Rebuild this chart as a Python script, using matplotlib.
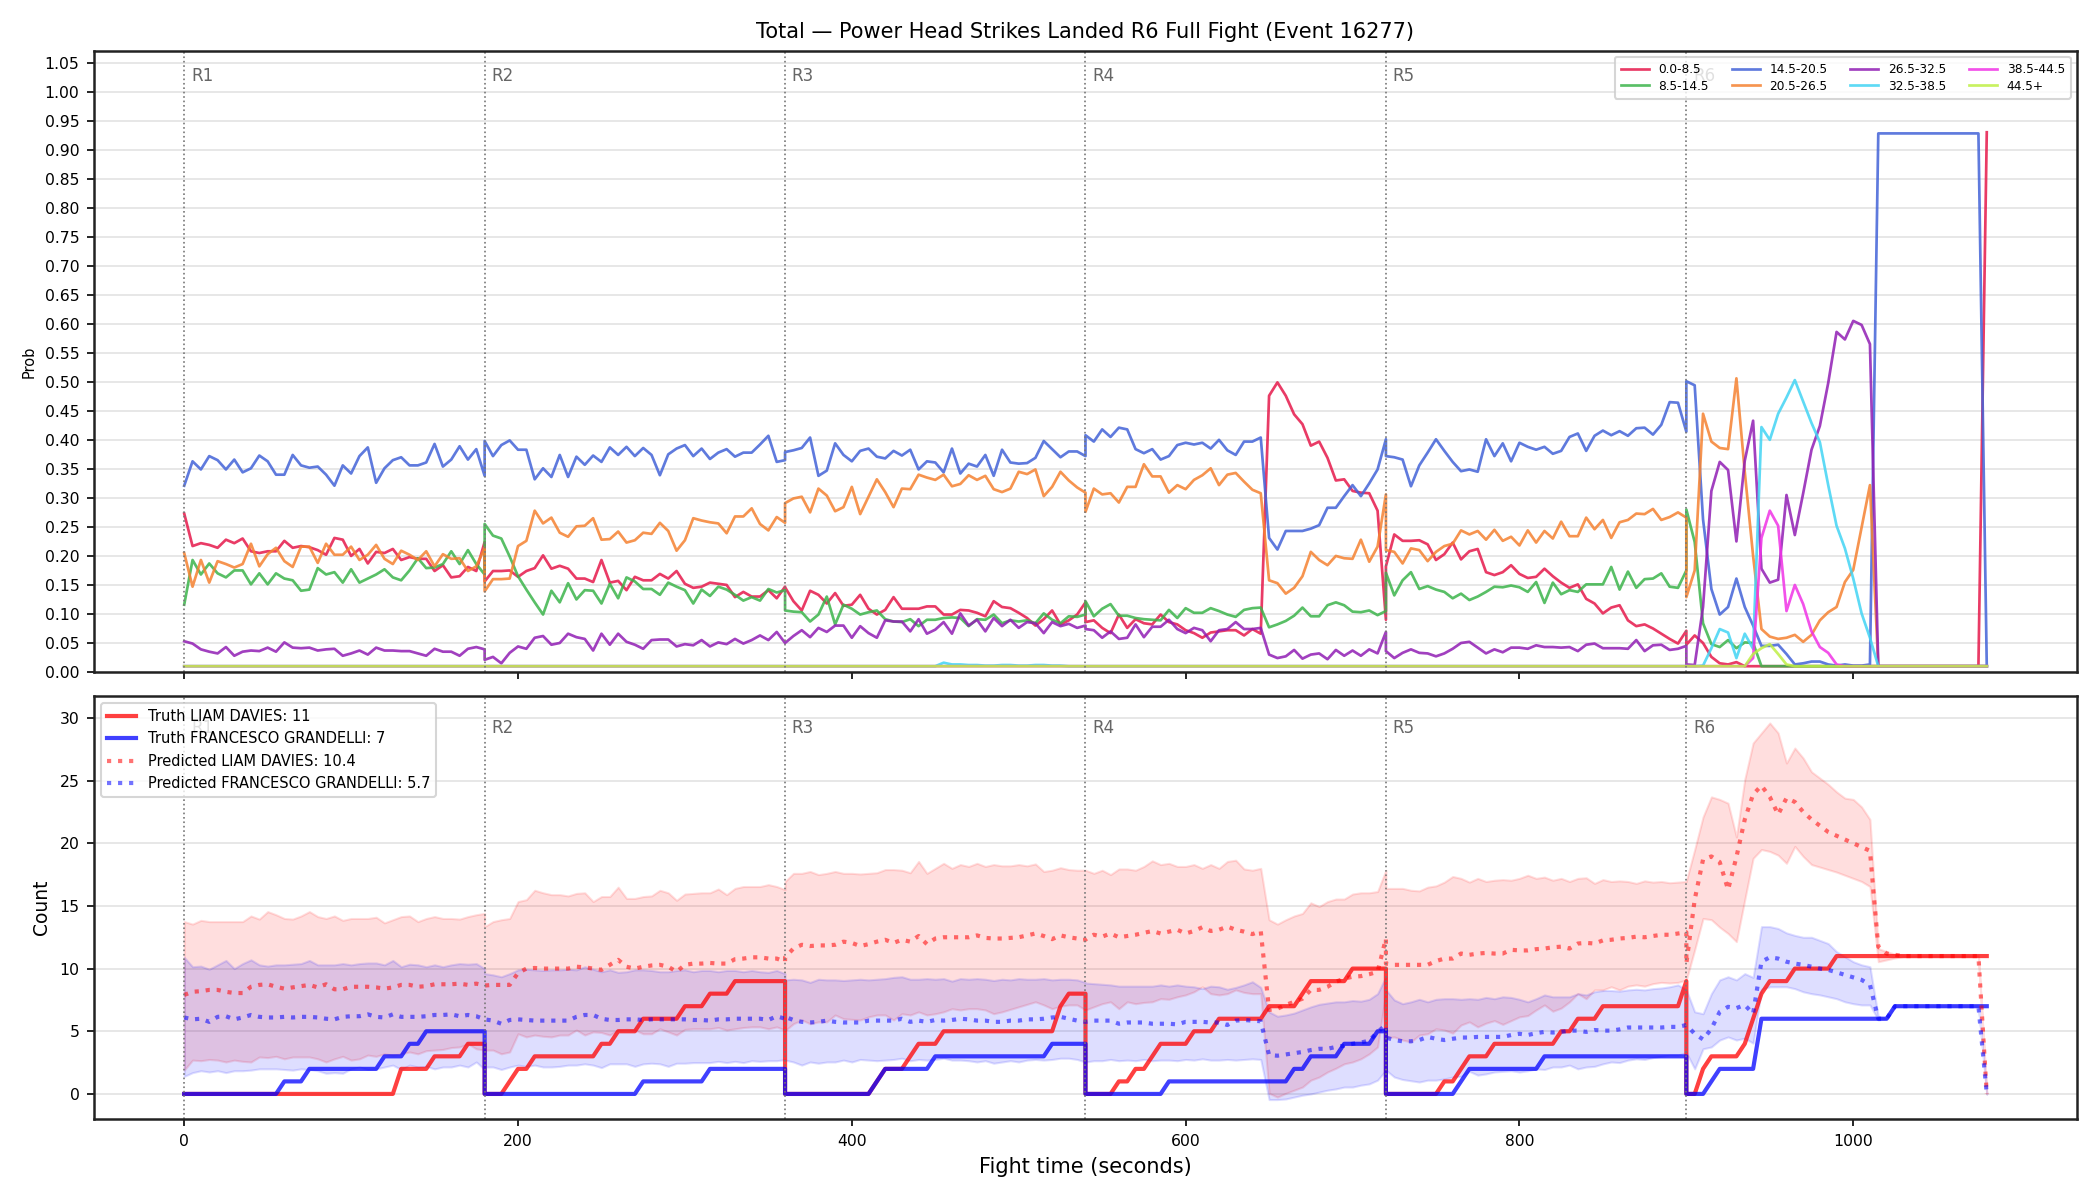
import matplotlib.pyplot as plt
from matplotlib.ticker import MultipleLocator
import numpy as np

# fight time: 6 rounds, samples every 5 s, each round 0..180 s inclusive
ROUND_STARTS = [0, 180, 360, 540, 720, 900]
t = np.concatenate([np.arange(0, 181, 5) + r0 for r0 in ROUND_STARTS])

# ---- top panel: probability per total-strikes bucket ----
bins = ['0.0-8.5', '8.5-14.5', '14.5-20.5', '20.5-26.5',
        '26.5-32.5', '32.5-38.5', '38.5-44.5', '44.5+']
bin_colors = ['#e6194b', '#3cb44b', '#4363d8', '#f58231',
              '#911eb4', '#42d4f4', '#f032e6', '#bfef45']

p_0_8 = (
    [0.273, 0.217, 0.222, 0.219, 0.214, 0.228, 0.222, 0.230, 0.208, 0.205, 0.208, 0.208, 0.226, 0.214, 0.217, 0.215, 0.210, 0.202, 0.231,
     0.228, 0.200, 0.212, 0.187, 0.207, 0.205, 0.212, 0.193, 0.198, 0.195, 0.195, 0.174, 0.184, 0.163, 0.165, 0.181, 0.174, 0.224]
    + [0.156, 0.174, 0.174, 0.175, 0.164, 0.174, 0.179, 0.201, 0.178, 0.183, 0.178, 0.161, 0.161, 0.155, 0.193, 0.154, 0.157, 0.141, 0.164,
       0.158, 0.158, 0.169, 0.161, 0.174, 0.152, 0.145, 0.147, 0.154, 0.152, 0.150, 0.129, 0.138, 0.130, 0.130, 0.141, 0.127, 0.147]
    + [0.146, 0.122, 0.106, 0.140, 0.133, 0.118, 0.136, 0.114, 0.116, 0.133, 0.109, 0.099, 0.107, 0.129, 0.109, 0.109, 0.109, 0.113, 0.113,
       0.099, 0.099, 0.107, 0.106, 0.102, 0.096, 0.122, 0.112, 0.110, 0.102, 0.093, 0.080, 0.091, 0.106, 0.082, 0.089, 0.099, 0.120]
    + [0.086, 0.089, 0.076, 0.067, 0.099, 0.076, 0.091, 0.084, 0.082, 0.099, 0.086, 0.082, 0.072, 0.067, 0.059, 0.068, 0.070, 0.072, 0.072,
       0.063, 0.074, 0.066, 0.476, 0.499, 0.476, 0.444, 0.427, 0.390, 0.397, 0.369, 0.330, 0.332, 0.312, 0.309, 0.308, 0.278, 0.090]
    + [0.182, 0.237, 0.226, 0.226, 0.227, 0.220, 0.193, 0.203, 0.223, 0.194, 0.208, 0.212, 0.172, 0.167, 0.172, 0.184, 0.169, 0.162, 0.164,
       0.178, 0.165, 0.154, 0.145, 0.151, 0.126, 0.118, 0.101, 0.111, 0.115, 0.089, 0.079, 0.082, 0.075, 0.066, 0.057, 0.049, 0.071]
    + [0.047, 0.063, 0.050, 0.026, 0.015, 0.013, 0.017] + [0.010] * 29 + [0.930]
)
p_8_14 = (
    [0.116, 0.193, 0.168, 0.187, 0.170, 0.163, 0.175, 0.175, 0.151, 0.170, 0.151, 0.170, 0.161, 0.158, 0.140, 0.142, 0.179, 0.168, 0.172,
     0.154, 0.177, 0.154, 0.161, 0.168, 0.177, 0.163, 0.158, 0.175, 0.196, 0.179, 0.180, 0.186, 0.208, 0.186, 0.210, 0.186, 0.168]
    + [0.255, 0.235, 0.230, 0.199, 0.165, 0.142, 0.120, 0.099, 0.140, 0.120, 0.153, 0.125, 0.141, 0.140, 0.118, 0.152, 0.127, 0.163, 0.156,
       0.143, 0.143, 0.133, 0.154, 0.147, 0.141, 0.118, 0.142, 0.131, 0.147, 0.142, 0.133, 0.123, 0.129, 0.123, 0.143, 0.137, 0.141]
    + [0.106, 0.104, 0.103, 0.087, 0.099, 0.130, 0.082, 0.116, 0.109, 0.099, 0.103, 0.106, 0.091, 0.087, 0.086, 0.091, 0.079, 0.090, 0.090,
       0.093, 0.094, 0.093, 0.079, 0.091, 0.090, 0.099, 0.084, 0.089, 0.087, 0.089, 0.084, 0.101, 0.090, 0.084, 0.096, 0.095, 0.099]
    + [0.122, 0.096, 0.109, 0.117, 0.097, 0.097, 0.093, 0.091, 0.090, 0.089, 0.107, 0.093, 0.110, 0.102, 0.102, 0.110, 0.105, 0.099, 0.095,
       0.107, 0.110, 0.111, 0.077, 0.082, 0.088, 0.097, 0.111, 0.096, 0.096, 0.115, 0.120, 0.115, 0.104, 0.103, 0.106, 0.098, 0.105]
    + [0.171, 0.132, 0.158, 0.172, 0.143, 0.148, 0.142, 0.138, 0.127, 0.135, 0.124, 0.130, 0.138, 0.147, 0.146, 0.149, 0.146, 0.138, 0.155,
       0.119, 0.154, 0.134, 0.141, 0.138, 0.151, 0.151, 0.151, 0.181, 0.142, 0.173, 0.145, 0.160, 0.161, 0.170, 0.147, 0.145, 0.175]
    + [0.280, 0.224, 0.084, 0.048, 0.043, 0.055, 0.041, 0.051, 0.050] + [0.010] * 28
)
p_14_20 = (
    [0.321, 0.363, 0.349, 0.372, 0.365, 0.349, 0.366, 0.344, 0.351, 0.373, 0.363, 0.340, 0.340, 0.374, 0.356, 0.352, 0.354, 0.340, 0.321,
     0.356, 0.342, 0.372, 0.387, 0.326, 0.351, 0.365, 0.370, 0.356, 0.356, 0.361, 0.393, 0.354, 0.366, 0.389, 0.366, 0.384, 0.338]
    + [0.398, 0.372, 0.391, 0.399, 0.383, 0.383, 0.332, 0.351, 0.336, 0.374, 0.336, 0.371, 0.357, 0.373, 0.362, 0.387, 0.374, 0.388, 0.372,
       0.386, 0.374, 0.339, 0.375, 0.385, 0.391, 0.372, 0.385, 0.367, 0.378, 0.384, 0.371, 0.378, 0.378, 0.392, 0.407, 0.362, 0.365]
    + [0.379, 0.382, 0.386, 0.404, 0.338, 0.347, 0.394, 0.374, 0.363, 0.381, 0.385, 0.371, 0.368, 0.381, 0.373, 0.383, 0.349, 0.363, 0.361,
       0.344, 0.385, 0.342, 0.359, 0.354, 0.374, 0.338, 0.383, 0.361, 0.359, 0.360, 0.369, 0.398, 0.384, 0.370, 0.380, 0.380, 0.372]
    + [0.408, 0.397, 0.418, 0.405, 0.421, 0.418, 0.384, 0.377, 0.384, 0.366, 0.372, 0.391, 0.395, 0.392, 0.395, 0.385, 0.400, 0.382, 0.374,
       0.397, 0.397, 0.404, 0.231, 0.211, 0.243, 0.243, 0.243, 0.247, 0.253, 0.283, 0.283, 0.303, 0.322, 0.303, 0.325, 0.349, 0.401]
    + [0.372, 0.370, 0.366, 0.320, 0.356, 0.378, 0.401, 0.381, 0.362, 0.346, 0.349, 0.345, 0.401, 0.372, 0.394, 0.363, 0.395, 0.388, 0.383,
       0.388, 0.376, 0.381, 0.405, 0.411, 0.381, 0.407, 0.416, 0.408, 0.415, 0.407, 0.420, 0.421, 0.409, 0.426, 0.465, 0.464, 0.414]
    + [0.501, 0.494, 0.263, 0.143, 0.099, 0.112, 0.161, 0.112, 0.080, 0.045, 0.045, 0.047, 0.031, 0.013, 0.015, 0.018, 0.018, 0.013, 0.011,
       0.013, 0.011, 0.011, 0.013] + [0.928] * 13 + [0.010]
)
p_20_26 = (
    [0.205, 0.147, 0.193, 0.154, 0.191, 0.186, 0.180, 0.186, 0.221, 0.182, 0.203, 0.214, 0.191, 0.181, 0.216, 0.216, 0.188, 0.221, 0.202,
     0.202, 0.216, 0.193, 0.202, 0.219, 0.195, 0.186, 0.209, 0.202, 0.193, 0.208, 0.182, 0.203, 0.195, 0.196, 0.174, 0.182, 0.214]
    + [0.139, 0.160, 0.160, 0.161, 0.217, 0.226, 0.278, 0.256, 0.266, 0.240, 0.233, 0.251, 0.252, 0.265, 0.228, 0.229, 0.242, 0.223, 0.227,
       0.240, 0.238, 0.257, 0.243, 0.209, 0.227, 0.265, 0.261, 0.258, 0.256, 0.239, 0.268, 0.268, 0.282, 0.255, 0.244, 0.267, 0.257]
    + [0.291, 0.299, 0.302, 0.275, 0.316, 0.304, 0.277, 0.284, 0.319, 0.272, 0.302, 0.332, 0.310, 0.284, 0.316, 0.315, 0.340, 0.335, 0.331,
       0.340, 0.320, 0.324, 0.339, 0.331, 0.338, 0.315, 0.310, 0.316, 0.345, 0.341, 0.349, 0.303, 0.319, 0.345, 0.330, 0.318, 0.309]
    + [0.276, 0.316, 0.306, 0.308, 0.292, 0.319, 0.319, 0.358, 0.337, 0.337, 0.309, 0.322, 0.315, 0.331, 0.339, 0.351, 0.322, 0.340, 0.343,
       0.328, 0.314, 0.308, 0.158, 0.153, 0.135, 0.145, 0.165, 0.207, 0.193, 0.184, 0.200, 0.196, 0.195, 0.228, 0.190, 0.216, 0.306]
    + [0.210, 0.207, 0.187, 0.213, 0.210, 0.191, 0.207, 0.217, 0.221, 0.244, 0.237, 0.243, 0.228, 0.245, 0.226, 0.233, 0.218, 0.244, 0.223,
       0.243, 0.230, 0.259, 0.234, 0.234, 0.266, 0.246, 0.262, 0.231, 0.258, 0.262, 0.273, 0.272, 0.281, 0.262, 0.267, 0.275, 0.266]
    + [0.129, 0.175, 0.445, 0.397, 0.386, 0.384, 0.506, 0.345, 0.200, 0.074, 0.061, 0.057, 0.059, 0.064, 0.052, 0.064, 0.089, 0.103, 0.112,
       0.155, 0.176, 0.249, 0.322] + [0.010] * 14
)
p_26_32 = (
    [0.053, 0.049, 0.039, 0.035, 0.032, 0.043, 0.028, 0.035, 0.037, 0.036, 0.042, 0.035, 0.051, 0.042, 0.041, 0.042, 0.037, 0.039, 0.040,
     0.028, 0.032, 0.037, 0.030, 0.042, 0.037, 0.037, 0.036, 0.036, 0.032, 0.028, 0.040, 0.035, 0.035, 0.028, 0.040, 0.043, 0.039]
    + [0.021, 0.026, 0.015, 0.033, 0.044, 0.040, 0.059, 0.062, 0.047, 0.050, 0.066, 0.060, 0.057, 0.037, 0.066, 0.047, 0.066, 0.052, 0.047,
       0.040, 0.055, 0.056, 0.056, 0.044, 0.048, 0.046, 0.055, 0.044, 0.051, 0.048, 0.057, 0.049, 0.055, 0.063, 0.055, 0.069, 0.050]
    + [0.050, 0.062, 0.072, 0.060, 0.076, 0.069, 0.080, 0.080, 0.059, 0.079, 0.067, 0.059, 0.089, 0.087, 0.087, 0.070, 0.091, 0.066, 0.073,
       0.086, 0.066, 0.101, 0.080, 0.090, 0.070, 0.093, 0.079, 0.090, 0.076, 0.086, 0.084, 0.067, 0.086, 0.079, 0.083, 0.076, 0.080]
    + [0.074, 0.072, 0.059, 0.070, 0.057, 0.059, 0.082, 0.060, 0.078, 0.078, 0.090, 0.074, 0.067, 0.076, 0.072, 0.053, 0.072, 0.074, 0.086,
       0.074, 0.074, 0.076, 0.030, 0.024, 0.027, 0.038, 0.023, 0.030, 0.032, 0.022, 0.038, 0.028, 0.037, 0.028, 0.039, 0.032, 0.069]
    + [0.036, 0.024, 0.033, 0.039, 0.033, 0.032, 0.027, 0.032, 0.040, 0.050, 0.052, 0.042, 0.032, 0.039, 0.034, 0.042, 0.042, 0.040, 0.046,
       0.043, 0.043, 0.042, 0.043, 0.036, 0.047, 0.049, 0.041, 0.041, 0.041, 0.040, 0.055, 0.036, 0.046, 0.047, 0.038, 0.040, 0.045]
    + [0.013, 0.012, 0.112, 0.312, 0.362, 0.348, 0.225, 0.364, 0.433, 0.178, 0.154, 0.159, 0.305, 0.236, 0.308, 0.383, 0.424, 0.498, 0.586,
       0.573, 0.605, 0.598, 0.565] + [0.010] * 14
)
p_32_38 = (
    [0.010] * 37 * 2
    + [0.010] * 19 + [0.016, 0.013, 0.013, 0.012, 0.012, 0.011, 0.011, 0.012, 0.012, 0.011, 0.011, 0.012, 0.012, 0.011, 0.011] + [0.010] * 3
    + [0.010] * 37 * 2
    + [0.010, 0.010, 0.011, 0.041, 0.074, 0.068, 0.024, 0.066, 0.040, 0.422, 0.400, 0.445, 0.473, 0.503, 0.466, 0.429, 0.396, 0.322, 0.252,
       0.213, 0.161, 0.101, 0.059] + [0.010] * 14
)
p_38_44 = (
    [0.010] * 37 * 5
    + [0.010] * 8 + [0.024, 0.231, 0.278, 0.252, 0.105, 0.150, 0.117, 0.070, 0.043, 0.033, 0.013] + [0.010] * 18
)
p_44_up = (
    [0.010] * 37 * 5
    + [0.010] * 8 + [0.031, 0.041, 0.048, 0.031, 0.013] + [0.010] * 24
)
bin_probs = [p_0_8, p_8_14, p_14_20, p_20_26, p_26_32, p_32_38, p_38_44, p_44_up]

# ---- bottom panel: cumulative counts per round ----
red_name = 'LIAM DAVIES'
blue_name = 'FRANCESCO GRANDELLI'
red_total, blue_total = 11, 7
red_pred_final, blue_pred_final = 10.4, 5.7

truth_red = (
    [0] * 26 + [2] * 4 + [3] * 4 + [4] * 3
    + [0] * 3 + [1] + [2] * 2 + [3] * 8 + [4] * 2 + [5] * 3 + [6] * 5 + [7] * 3 + [8] * 3 + [9] * 7
    + [0] * 11 + [1] + [2] * 3 + [3] + [4] * 3 + [5] * 14 + [7] + [8] * 3
    + [0] * 4 + [1] * 2 + [2] * 2 + [3] + [4] * 4 + [5] * 3 + [6] * 6 + [7] * 4 + [8] + [9] * 5 + [10] * 5
    + [0] * 7 + [1] * 2 + [2] + [3] * 3 + [4] * 8 + [5] * 2 + [6] * 3 + [7] * 10 + [9]
    + [0] * 2 + [2] + [3] * 4 + [4] + [6] + [8] + [9] * 3 + [10] * 5 + [11] * 19
)
truth_blue = (
    [0] * 12 + [1] * 3 + [2] * 9 + [3] * 3 + [4] * 2 + [5] * 8
    + [0] * 19 + [1] * 8 + [2] * 10
    + [0] * 11 + [1] + [2] * 6 + [3] * 14 + [4] * 5
    + [0] * 10 + [1] * 15 + [2] * 2 + [3] * 4 + [4] * 4 + [5] * 2
    + [0] * 9 + [1] + [2] * 9 + [3] * 18
    + [0] * 3 + [1] + [2] * 5 + [6] * 16 + [7] * 12
)

pred_red = (
    [7.9, 8.15, 8.2, 8.3, 8.3, 8.15, 8.05, 8.05, 8.55, 8.7, 8.75, 8.55, 8.4, 8.5, 8.6, 8.7, 8.5, 8.75, 8.35,
     8.35, 8.55, 8.55, 8.55, 8.5, 8.4, 8.5, 8.7, 8.7, 8.55, 8.6, 8.75, 8.75, 8.75, 8.8, 8.7, 8.8, 8.65]
    + [8.65, 8.7, 8.7, 8.7, 9.65, 10.0, 10.05, 10.0, 10.0, 10.0, 10.0, 10.15, 10.1, 10.0, 9.9, 10.3, 10.7, 10.15, 10.0,
       10.15, 10.25, 10.3, 10.15, 9.75, 10.3, 10.4, 10.4, 10.45, 10.4, 10.4, 10.75, 10.8, 10.9, 10.9, 10.8, 10.8, 10.55]
    + [10.9, 11.6, 11.9, 11.8, 11.85, 11.85, 11.9, 12.15, 12.05, 11.8, 11.95, 12.15, 12.3, 12.05, 12.3, 12.15, 12.6, 11.95, 12.4,
       12.5, 12.5, 12.5, 12.5, 12.65, 12.45, 12.4, 12.4, 12.45, 12.5, 12.65, 12.8, 12.6, 12.35, 12.65, 12.5, 12.4, 12.3]
    + [12.35, 12.7, 12.55, 12.8, 12.5, 12.6, 12.7, 12.85, 13.0, 12.8, 12.95, 13.1, 12.8, 13.0, 13.3, 13.0, 13.1, 13.35, 13.1,
       12.95, 12.75, 13.0, 6.7, 6.8, 7.1, 7.35, 7.6, 8.3, 8.3, 8.55, 8.95, 9.2, 9.35, 9.4, 9.55, 9.75, 12.4]
    + [10.4, 10.3, 10.3, 10.3, 10.3, 10.3, 10.6, 10.8, 10.8, 11.2, 11.1, 11.2, 11.25, 11.2, 11.2, 11.5, 11.45, 11.45, 11.55,
       11.6, 11.7, 11.75, 11.6, 12.0, 12.05, 12.0, 12.25, 12.3, 12.4, 12.45, 12.55, 12.5, 12.6, 12.7, 12.7, 12.8, 12.9]
    + [10.4, 15.5, 18.7, 18.95, 18.5, 16.3, 18.9, 21.9, 23.9, 24.6, 23.7, 22.3, 23.6, 23.3, 22.5, 21.9, 21.4, 20.9, 20.6,
       20.3, 20.0, 19.7, 19.4, 11.75, 11.2, 11.1] + [11.0] * 10 + [0.0]
)
pred_blue = (
    [6.1, 5.95, 6.0, 5.75, 6.15, 6.2, 5.95, 6.1, 6.3, 6.15, 6.1, 6.1, 6.15, 6.1, 6.15, 6.15, 6.1, 6.0, 5.95,
     6.15, 6.2, 6.2, 6.35, 6.15, 6.1, 6.35, 6.15, 6.15, 6.15, 6.2, 6.3, 6.3, 6.35, 6.2, 6.3, 6.2, 5.95]
    + [5.95, 5.85, 5.6, 5.9, 5.95, 5.9, 5.85, 5.85, 5.85, 5.85, 5.85, 6.15, 6.3, 6.3, 6.0, 5.9, 5.9, 5.95, 5.95,
       5.9, 5.95, 5.95, 5.95, 5.95, 5.95, 5.9, 5.9, 5.85, 5.95, 5.95, 6.0, 6.0, 6.0, 6.0, 5.9, 6.2, 6.0]
    + [6.15, 5.9, 5.75, 5.7, 5.75, 5.85, 5.75, 5.7, 5.7, 5.7, 5.85, 5.85, 5.85, 5.85, 6.0, 5.75, 5.85, 5.75, 5.9,
       5.85, 5.9, 6.0, 5.95, 5.85, 5.85, 5.75, 5.75, 5.85, 5.85, 5.95, 5.95, 6.0, 6.1, 6.15, 6.0, 5.85, 5.75]
    + [5.75, 5.85, 5.85, 5.85, 5.6, 5.7, 5.7, 5.7, 5.6, 5.6, 5.6, 5.55, 5.75, 5.75, 5.75, 5.7, 5.7, 5.5, 5.85,
       5.9, 5.85, 5.8, 3.1, 3.05, 3.15, 3.25, 3.35, 3.5, 3.6, 3.6, 3.75, 3.85, 4.0, 4.1, 4.25, 4.95, 5.5]
    + [4.5, 4.3, 4.2, 4.2, 4.3, 4.55, 4.4, 4.3, 4.4, 4.5, 4.5, 4.55, 4.55, 4.55, 4.55, 4.7, 4.8, 4.7, 4.85,
       4.95, 4.9, 4.95, 5.05, 5.05, 4.95, 5.1, 5.05, 5.05, 5.15, 5.3, 5.3, 5.3, 5.3, 5.3, 5.35, 5.35, 5.5]
    + [5.5, 4.8, 4.35, 5.2, 6.55, 6.95, 6.85, 7.1, 6.4, 10.55, 10.9, 10.8, 10.55, 10.4, 10.3, 10.15, 10.0, 9.9, 9.7,
       9.5, 9.3, 9.1, 8.7, 6.0, 6.0] + [7.0] * 11 + [0.0]
)

red_hi = (
    [13.75, 13.55, 13.85, 13.75, 13.75, 13.75, 13.75, 13.75, 14.2, 13.95, 14.55, 14.3, 14.0, 13.95, 14.2, 14.55, 14.15, 14.0, 14.2,
     13.85, 14.0, 14.0, 14.0, 14.1, 13.65, 13.9, 14.15, 14.2, 13.75, 14.0, 14.15, 14.0, 14.0, 13.95, 14.15, 14.3, 14.4]
    + [13.35, 13.75, 13.9, 14.0, 15.35, 15.5, 16.25, 16.05, 15.9, 15.9, 15.8, 16.0, 16.05, 15.35, 15.75, 15.75, 16.5, 15.6, 15.6,
       15.75, 15.8, 16.25, 16.05, 15.45, 15.95, 16.0, 16.05, 16.05, 16.35, 15.9, 16.4, 16.55, 16.55, 16.55, 16.7, 16.55, 16.3]
    + [16.95, 17.6, 17.6, 17.75, 17.5, 17.6, 17.75, 17.6, 17.6, 17.55, 17.6, 17.65, 17.9, 17.9, 17.85, 17.65, 18.55, 17.6, 18.0,
       18.4, 18.0, 18.3, 18.15, 18.4, 18.15, 18.3, 18.2, 18.2, 18.3, 18.2, 18.35, 17.75, 17.85, 18.05, 17.9, 17.85, 17.85]
    + [17.85, 17.6, 17.85, 17.5, 17.95, 17.95, 17.85, 18.15, 18.6, 18.3, 18.4, 18.15, 18.15, 18.3, 18.0, 18.3, 18.0, 18.55, 18.65,
       17.95, 17.85, 18.0, 13.9, 13.55, 13.9, 14.2, 14.4, 15.25, 14.95, 15.35, 15.55, 15.55, 15.95, 16.05, 16.05, 16.15, 17.85]
    + [16.4, 16.4, 16.4, 16.25, 16.2, 16.5, 16.6, 16.9, 17.35, 17.2, 16.9, 17.2, 16.95, 17.05, 17.1, 17.05, 17.2, 17.45, 17.2,
       17.3, 17.05, 17.2, 16.95, 17.2, 17.25, 16.8, 17.1, 16.95, 17.0, 16.95, 16.8, 17.0, 16.9, 16.95, 16.85, 16.9, 16.95]
    + [17.0, 19.5, 22.1, 23.7, 23.5, 23.2, 20.5, 25.1, 28.0, 28.8, 29.6, 28.8, 26.4, 27.6, 26.8, 25.7, 25.2, 24.7, 24.1,
       23.6, 23.5, 22.9, 21.9, 11.6, 11.35, 11.15, 11.1] + [11.05] * 9 + [0.0]
)
red_lo = (
    [1.9, 2.7, 2.65, 2.75, 2.7, 2.55, 2.7, 2.6, 2.55, 2.95, 2.9, 3.0, 2.8, 2.95, 2.95, 2.95, 2.8, 2.55, 2.8,
     3.0, 2.7, 2.8, 3.1, 3.0, 3.2, 3.1, 3.2, 3.35, 3.2, 3.45, 3.5, 3.55, 3.7, 3.75, 4.0, 3.6, 3.5]
    + [3.5, 3.5, 3.2, 3.35, 4.8, 4.55, 4.7, 4.6, 4.55, 4.7, 4.7, 5.1, 4.7, 4.95, 4.9, 4.7, 5.1, 5.15, 5.1,
       4.8, 4.8, 5.2, 4.95, 4.7, 5.15, 5.2, 5.2, 5.2, 5.3, 5.1, 5.2, 5.3, 5.35, 5.35, 5.2, 5.35, 5.1]
    + [5.05, 5.6, 5.9, 5.6, 5.75, 5.75, 6.3, 6.0, 5.95, 5.9, 6.15, 6.3, 6.3, 5.9, 6.4, 6.3, 6.55, 6.3, 6.4,
       6.55, 6.8, 6.7, 6.8, 6.8, 6.7, 6.4, 6.55, 6.75, 6.95, 7.15, 7.35, 7.1, 6.8, 7.0, 7.1, 7.1, 6.7]
    + [6.7, 6.95, 7.2, 7.35, 6.8, 7.35, 7.2, 7.3, 7.35, 7.6, 7.55, 7.75, 7.9, 8.15, 8.55, 8.0, 7.9, 8.0, 8.3,
       8.1, 8.0, 8.0, 0.05, -0.25, 0.05, 0.3, 0.55, 1.1, 1.35, 1.75, 2.05, 2.4, 2.55, 2.8, 3.2, 3.75, 8.15]
    + [4.5, 4.55, 4.3, 4.15, 4.7, 4.8, 5.2, 5.1, 4.85, 5.5, 5.75, 5.35, 5.65, 5.85, 5.55, 5.85, 6.15, 6.25, 6.7,
       7.1, 6.6, 6.85, 7.35, 8.0, 7.6, 8.3, 8.3, 8.55, 8.3, 8.6, 8.7, 8.6, 8.8, 8.9, 8.85, 8.9, 9.1]
    + [9.1, 11.5, 14.0, 13.9, 13.3, 12.8, 12.15, 15.5, 18.8, 19.5, 19.35, 19.05, 18.4, 19.75, 18.95, 18.3, 18.1, 17.9, 17.7,
       17.45, 17.2, 16.95, 16.55, 10.55, 10.7, 10.85, 10.95] + [10.95] * 9 + [0.0]
)
blue_hi = (
    [10.9, 10.15, 10.2, 9.95, 10.3, 10.65, 10.0, 10.4, 10.7, 10.3, 10.2, 10.3, 10.3, 10.35, 10.4, 10.65, 10.3, 10.3, 10.3,
     10.4, 10.3, 10.4, 10.45, 10.45, 10.3, 10.65, 10.15, 10.35, 10.3, 10.15, 10.3, 10.15, 10.3, 10.4, 10.35, 10.4, 10.0]
    + [9.6, 9.5, 9.35, 9.6, 9.9, 9.95, 9.9, 9.85, 9.9, 9.9, 9.95, 9.9, 10.15, 9.95, 9.75, 9.9, 9.7, 9.75, 9.9,
       9.9, 9.85, 9.75, 9.75, 9.85, 9.9, 9.75, 9.85, 9.85, 9.75, 9.85, 9.85, 9.75, 9.85, 9.75, 9.7, 9.85, 9.6]
    + [9.1, 9.15, 9.1, 8.9, 9.15, 9.1, 9.1, 9.05, 9.1, 9.15, 9.1, 9.15, 9.2, 9.3, 9.35, 9.15, 9.15, 9.2, 9.15,
       9.2, 9.0, 9.2, 9.15, 9.2, 9.15, 9.05, 9.15, 9.1, 9.2, 9.15, 9.15, 9.2, 9.1, 9.15, 9.15, 9.1, 8.9]
    + [8.85, 8.8, 8.75, 8.7, 8.6, 8.6, 8.6, 8.6, 8.6, 8.7, 8.6, 8.7, 8.6, 8.55, 8.4, 8.6, 8.55, 8.35, 8.5,
       8.7, 8.95, 8.5, 6.55, 6.2, 6.3, 6.45, 6.7, 6.95, 7.15, 7.25, 7.35, 7.35, 7.45, 7.4, 7.55, 8.0, 9.35]
    + [8.3, 7.5, 7.2, 7.35, 7.55, 7.35, 7.55, 7.6, 7.6, 7.55, 7.6, 7.55, 7.7, 7.6, 7.75, 7.7, 7.55, 7.35, 7.6,
       7.9, 7.75, 7.75, 7.75, 8.0, 7.9, 8.15, 8.25, 8.25, 8.2, 8.3, 8.35, 8.3, 8.4, 8.45, 8.55, 8.7, 8.3]
    + [8.3, 6.55, 6.4, 8.0, 9.1, 9.35, 9.1, 9.6, 9.3, 13.35, 13.35, 13.2, 12.85, 12.65, 12.5, 12.5, 12.25, 12.0, 11.35,
       10.95, 10.55, 10.3, 10.15, 6.15, 6.05, 7.0] + [7.0] * 10 + [0.0]
)
blue_lo = (
    [1.4, 1.7, 1.85, 1.75, 1.85, 1.7, 1.85, 1.85, 1.9, 2.0, 2.0, 2.0, 1.95, 1.9, 2.0, 1.95, 1.85, 1.65, 1.7,
     1.65, 2.0, 2.15, 1.95, 2.0, 2.15, 2.3, 1.95, 2.3, 2.15, 2.2, 2.0, 2.15, 2.15, 2.3, 2.15, 2.55, 1.95]
    + [2.15, 2.15, 1.95, 2.15, 2.3, 2.2, 2.3, 2.15, 2.15, 2.2, 2.3, 2.3, 2.4, 2.3, 2.1, 2.4, 2.4, 2.4, 2.2,
       2.4, 2.45, 2.4, 2.2, 2.45, 2.45, 2.5, 2.5, 2.5, 2.6, 2.5, 2.6, 2.5, 2.65, 2.6, 2.65, 2.65, 2.75]
    + [2.7, 2.55, 2.3, 2.55, 2.45, 2.55, 2.55, 2.7, 2.55, 2.75, 2.7, 2.65, 2.7, 2.75, 2.85, 2.65, 2.75, 2.7, 2.75,
       2.85, 2.7, 2.7, 2.65, 2.55, 2.65, 2.45, 2.55, 2.65, 2.55, 2.7, 2.75, 2.7, 2.75, 2.85, 2.85, 2.75, 2.55]
    + [2.55, 2.65, 2.65, 2.75, 2.65, 2.7, 2.65, 2.75, 2.65, 2.7, 2.7, 2.65, 2.75, 2.7, 2.8, 2.7, 2.7, 2.75, 2.7,
       2.75, 2.8, 2.75, -0.45, -0.45, -0.4, -0.25, -0.1, 0.0, 0.15, 0.3, 0.4, 0.55, 0.55, 0.7, 0.8, 1.1, 1.9]
    + [1.9, 1.35, 1.15, 1.05, 0.95, 1.1, 1.1, 1.2, 1.35, 1.4, 1.8, 1.5, 1.6, 1.75, 1.8, 1.85, 1.75, 1.85, 2.0,
       1.95, 2.15, 2.15, 2.3, 2.0, 2.15, 2.2, 2.4, 2.55, 2.5, 2.7, 2.8, 2.75, 2.9, 3.0, 3.1, 3.1, 3.3]
    + [3.3, 2.0, 3.6, 3.75, 4.3, 4.55, 4.3, 4.45, 4.05, 8.35, 8.55, 8.55, 8.55, 8.4, 8.15, 8.0, 7.9, 7.75, 7.6,
       7.35, 7.2, 7.1, 7.1, 5.9, 6.0, 7.0] + [7.0] * 10 + [0.0]
)

plt.rcParams['font.family'] = 'DejaVu Sans'
plt.rcParams['axes.linewidth'] = 1.2
plt.rcParams['axes.edgecolor'] = '#222222'

fig = plt.figure(figsize=(14, 8), dpi=150)
ax1 = fig.add_axes([0.0448, 0.44, 0.9442, 0.5175])
ax2 = fig.add_axes([0.0448, 0.0675, 0.9442, 0.3525], sharex=ax1)

# top panel
for label, color, probs in zip(bins, bin_colors, bin_probs):
    ax1.plot(t, probs, color=color, lw=1.3, alpha=0.85, label=label)
ax1.set_ylim(0, 1.07)
ax1.yaxis.set_major_locator(MultipleLocator(0.05))
ax1.set_ylabel('Prob', fontsize=7)
ax1.set_title('Total \u2014 Power Head Strikes Landed R6 Full Fight (Event 16277)', fontsize=10)
ax1.grid(axis='y', color='#e3e3e3', lw=0.8)
ax1.set_axisbelow(True)
ax1.tick_params(labelsize=7.5, labelbottom=False)
ax1.legend(loc='upper right', ncol=4, fontsize=5.8, handlelength=2.3, columnspacing=1.9,
           borderpad=0.5, labelspacing=0.3)

# bottom panel
ax2.fill_between(t, red_lo, red_hi, color='red', alpha=0.13)
ax2.fill_between(t, blue_lo, blue_hi, color='blue', alpha=0.13)
ax2.plot(t, truth_red, color='red', lw=2, alpha=0.75, label=f'Truth {red_name}: {red_total}')
ax2.plot(t, truth_blue, color='blue', lw=2, alpha=0.75, label=f'Truth {blue_name}: {blue_total}')
ax2.plot(t, pred_red, color='red', lw=2, ls=':', alpha=0.55, label=f'Predicted {red_name}: {red_pred_final}')
ax2.plot(t, pred_blue, color='blue', lw=2, ls=':', alpha=0.55, label=f'Predicted {blue_name}: {blue_pred_final}')
ax2.set_ylim(-2, 31.75)
ax2.set_ylabel('Count', fontsize=9)
ax2.set_xlabel('Fight time (seconds)', fontsize=10)
ax2.grid(axis='y', color='#e3e3e3', lw=0.8)
ax2.set_axisbelow(True)
ax2.tick_params(labelsize=7.5)
ax2.legend(loc='upper left', fontsize=7)

# round markers
for ax, ytxt in [(ax1, 0.975), (ax2, 0.945)]:
    for r, r0 in enumerate(ROUND_STARTS):
        ax.axvline(r0, color='#777777', ls=':', lw=0.8)
        ax.text(r0 + 4, ytxt, f'R{r + 1}', color='#666666', fontsize=8, va='top',
                transform=ax.get_xaxis_transform())

fig.savefig('out.png', dpi=150)
